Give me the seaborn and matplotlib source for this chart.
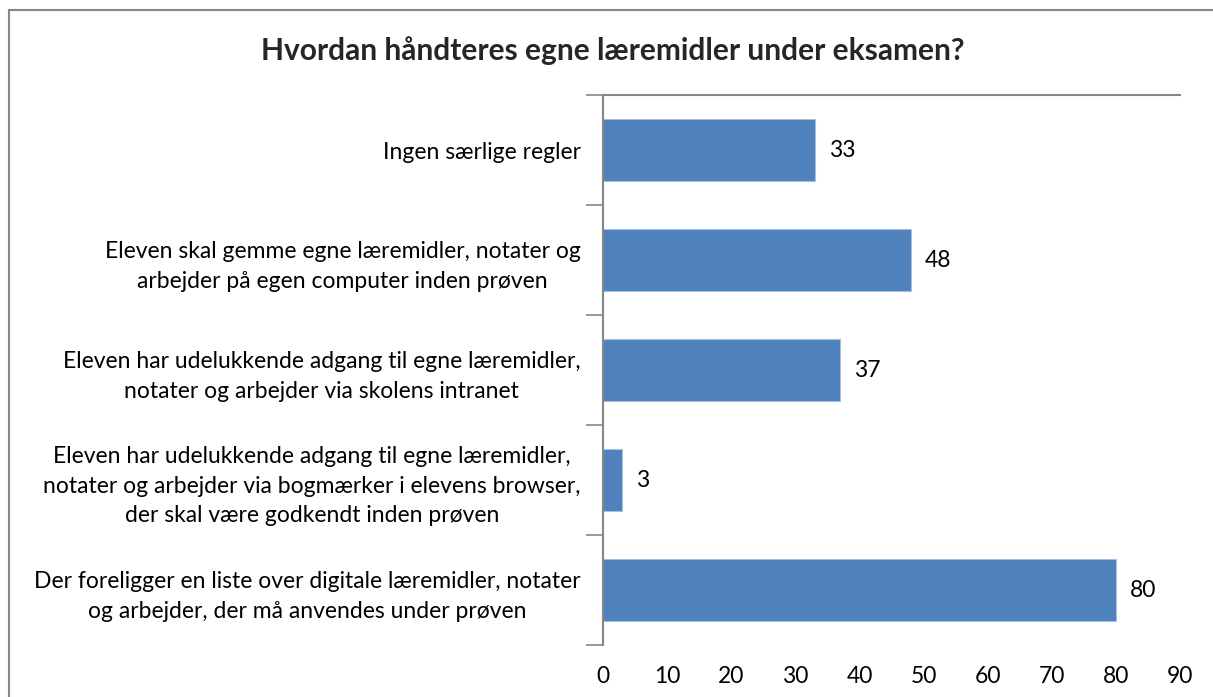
import matplotlib.pyplot as plt
import pandas as pd
import seaborn as sns
from matplotlib.patches import Rectangle

# Data
categories = [
    'Ingen særlige regler',
    'Eleven skal gemme egne læremidler, notater og\narbejder på egen computer inden prøven',
    'Eleven har udelukkende adgang til egne læremidler,\nnotater og arbejder via skolens intranet',
    'Eleven har udelukkende adgang til egne læremidler,\nnotater og arbejder via bogmærker i elevens browser,\nder skal være godkendt inden prøven',
    'Der foreligger en liste over digitale læremidler, notater\nog arbejder, der må anvendes under prøven',
]
values = [33, 48, 37, 3, 80]
title = 'Hvordan håndteres egne læremidler under eksamen?'

df = pd.DataFrame({'kategori': categories, 'antal': values})

sns.set_style('white')
plt.rcParams['font.family'] = ['Lato', 'DejaVu Sans']
fs = 16.5

fig = plt.figure(figsize=(12.13, 6.97), dpi=100)
ax = fig.add_axes([0.497, 0.0746, 0.476, 0.7891])

sns.barplot(data=df, x='antal', y='kategori', orient='h', color='#4F81BD',
            width=0.57, saturation=1, edgecolor='#A7C0DE', linewidth=0.8, ax=ax)

ax.set_xlim(0, 90)
ax.set_xticks(range(0, 91, 10))
ax.set_xlabel('')
ax.set_ylabel('')

# value labels
for i, v in enumerate(values):
    ax.text(v + 2.2, i, str(v), va='center', ha='left', fontsize=fs, color='black')

# axis styling
for s in ['right', 'bottom']:
    ax.spines[s].set_visible(False)
for s in ['left', 'top']:
    ax.spines[s].set_color('#868686')
    ax.spines[s].set_linewidth(1.5)

# category boundary ticks on the left axis
ax.set_yticks([i - 0.5 for i in range(len(categories) + 1)], minor=True)
ax.tick_params(axis='y', which='minor', length=12, width=1.2, color='#868686', left=True)
ax.tick_params(axis='y', which='major', length=0, pad=16, labelsize=fs)
ax.tick_params(axis='x', length=0, pad=15, labelsize=fs)
ax.set_ylim(len(categories) - 0.5, -0.5)
for lbl in ax.get_yticklabels():
    lbl.set_multialignment('center')
    lbl.set_linespacing(1.5)
    lbl.set_color('black')
for lbl in ax.get_xticklabels():
    lbl.set_color('black')

fig.text(0.505, 0.928, title, ha='center', va='center', fontsize=21.5, fontweight='bold')

# outer chart border
fig.patches.append(Rectangle((9 / 1213, -0.1), 1.2, 1 - 10 / 697 + 0.1,
                             transform=fig.transFigure, fill=False,
                             edgecolor='#868686', linewidth=1.5))

fig.savefig('out.png', dpi=100)
